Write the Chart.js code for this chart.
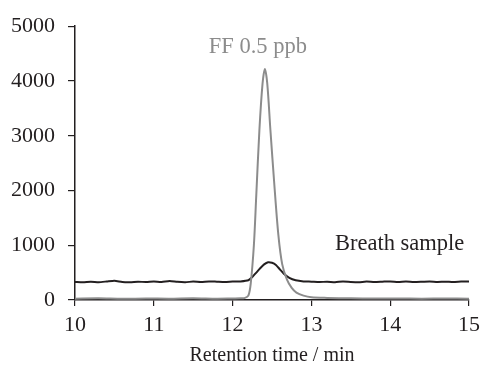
<!DOCTYPE html>
<html>
<head>
<meta charset="utf-8">
<script src="https://cdn.jsdelivr.net/npm/chart.js@4.4.1/dist/chart.umd.min.js"></script>
<style>
  html, body { margin: 0; padding: 0; background: #fff; }
  #wrap { width: 481px; height: 365px; }
</style>
</head>
<body>
<div id="wrap"><canvas id="grafik" width="481" height="365"></canvas></div>
<script>
// retention time (min) and signal for the standard (FF 0.5 ppb)
var ffTime = [10, 10.3, 10.6, 10.9, 11.2, 11.5, 11.8, 12.0, 12.1, 12.15, 12.2, 12.23, 12.27, 12.3, 12.34, 12.38, 12.41, 12.44, 12.48, 12.53, 12.58, 12.63, 12.69, 12.75, 12.81, 12.9, 13.0, 13.2, 13.5, 13.8, 14.1, 14.4, 14.7, 15]
var ffSignal = [25, 30, 22, 28, 25, 32, 24, 28, 30, 35, 80, 300, 1000, 1900, 3100, 3950, 4220, 3950, 3100, 2100, 1200, 650, 370, 220, 135, 80, 50, 38, 30, 26, 28, 24, 27, 25]

// breath sample
var breathTime = [10, 10.1, 10.2, 10.3, 10.4, 10.5, 10.6, 10.7, 10.8, 10.9, 11.0, 11.1, 11.2, 11.3, 11.4, 11.5, 11.6, 11.7, 11.8, 11.9, 12.0, 12.1, 12.2, 12.25, 12.3, 12.35, 12.4, 12.45, 12.5, 12.55, 12.6, 12.65, 12.72, 12.8, 12.9, 13.0, 13.1, 13.2, 13.3, 13.4, 13.5, 13.6, 13.7, 13.8, 13.9, 14.0, 14.1, 14.2, 14.3, 14.4, 14.5, 14.6, 14.7, 14.8, 14.9, 15]
var breathSignal = [330, 322, 334, 326, 338, 352, 330, 326, 334, 328, 336, 330, 348, 332, 326, 336, 330, 340, 334, 328, 336, 340, 360, 420, 500, 580, 650, 690, 680, 640, 560, 480, 405, 360, 340, 335, 328, 334, 326, 338, 330, 326, 336, 328, 334, 340, 330, 336, 328, 332, 338, 330, 334, 328, 336, 340]

var xTicks = [10, 11, 12, 13, 14, 15]
var yTicks = [0, 1000, 2000, 3000, 4000, 5000]

var seriesLabels = ['FF 0.5 ppb', 'Breath sample']
var xTitle = 'Retention time / min'

function toPoints(xs, ys) {
  return xs.map(function (x, i) { return {x: x, y: ys[i]} })
}

var ink = '#231f20'
var grey = '#8c8c8c'
var serif = "'Liberation Serif', 'DejaVu Serif', serif"

// labels written next to the curves
var curveLabels = {
  id: 'curveLabels',
  afterDatasetsDraw: function (chart) {
    var c = chart.ctx
    var xs = chart.scales.x, ys = chart.scales.y
    c.save()
    c.font = '22.5px ' + serif
    c.textAlign = 'center'
    c.textBaseline = 'alphabetic'
    c.fillStyle = grey
    c.fillText(seriesLabels[0], xs.getPixelForValue(12.32), ys.getPixelForValue(4505))
    c.fillStyle = ink
    c.fillText(seriesLabels[1], xs.getPixelForValue(14.12), ys.getPixelForValue(915))
    c.restore()
  }
}

var ctx = document.getElementById('grafik')
new Chart(ctx, {
  type: 'line',
  data: {
    datasets: [{
      label: seriesLabels[0],
      data: toPoints(ffTime, ffSignal),
      borderColor: grey,
      borderWidth: 2,
      pointRadius: 0,
      tension: 0.3,
      fill: false
    }, {
      label: seriesLabels[1],
      data: toPoints(breathTime, breathSignal),
      borderColor: ink,
      borderWidth: 2,
      pointRadius: 0,
      tension: 0.2,
      fill: false
    }]
  },
  options: {
    responsive: false,
    animation: false,
    layout: { padding: { top: 24, right: 12, left: 0, bottom: 0 } },
    plugins: {
      legend: { display: false },
      tooltip: { enabled: false }
    },
    scales: {
      x: {
        type: 'linear',
        min: 10,
        max: 15,
        afterBuildTicks: function (s) { s.ticks = xTicks.map(function (v) { return {value: v} }) },
        afterFit: function (s) { s.height = 65; s.paddingRight = 0; s.paddingLeft = 0 },
        grid: { drawOnChartArea: false, drawTicks: true, tickLength: 6, color: ink, lineWidth: 1.2 },
        border: { display: true, color: ink, width: 1.5 },
        ticks: { color: ink, padding: 6, font: { family: serif, size: 22 }, maxRotation: 0, callback: function (v) { return String(v) } },
        title: { display: true, text: xTitle, color: ink, padding: { top: 5, bottom: -3 }, font: { family: serif, size: 20 } }
      },
      y: {
        min: 0,
        max: 5000,
        afterBuildTicks: function (s) { s.ticks = yTicks.map(function (v) { return {value: v} }) },
        afterFit: function (s) { s.width = 75 },
        grid: { drawOnChartArea: false, drawTicks: true, tickLength: 7, color: ink, lineWidth: 1.2 },
        border: { display: true, color: ink, width: 1.5 },
        ticks: { color: ink, padding: 13, font: { family: serif, size: 22 }, callback: function (v) { return String(v) } }
      }
    }
  },
  plugins: [curveLabels]
})
</script>
</body>
</html>
